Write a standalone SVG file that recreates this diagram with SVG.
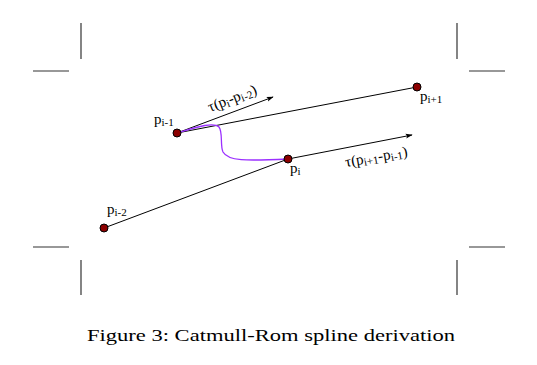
<svg xmlns="http://www.w3.org/2000/svg" width="537" height="365" viewBox="0 0 537 365">
<style>
.crop{stroke:#333;stroke-width:1.2;fill:none}
.ln{stroke:#000;stroke-width:1;fill:none}
.pt{fill:#8b0000;stroke:#000;stroke-width:1}
.lbl{font-family:"Liberation Serif",serif;font-size:15px;fill:#000}
.sub{font-size:11px}
.cap{font-family:"Liberation Serif",serif;font-size:17px;fill:#000}
</style>
<defs>
<marker id="ah" viewBox="0 0 10 10" refX="9" refY="5" markerWidth="7" markerHeight="7" orient="auto" markerUnits="userSpaceOnUse">
<path d="M0,1.5 L10,5 L0,8.5 L2,5 Z" fill="#000"/>
</marker>
</defs>
<g id="cropmarks">
<line class="crop" x1="81" y1="23" x2="81" y2="59"/>
<line class="crop" x1="33" y1="71" x2="69" y2="71"/>
<line class="crop" x1="457" y1="23" x2="457" y2="59"/>
<line class="crop" x1="469" y1="71" x2="505" y2="71"/>
<line class="crop" x1="33" y1="247" x2="69" y2="247"/>
<line class="crop" x1="81" y1="260" x2="81" y2="295"/>
<line class="crop" x1="457" y1="260" x2="457" y2="295"/>
<line class="crop" x1="469" y1="247" x2="505" y2="247"/>
</g>
<g id="connectors">
<line class="ln" x1="104" y1="228" x2="288" y2="159"/>
<line class="ln" x1="177" y1="133" x2="417" y2="87"/>
<line class="ln" x1="177" y1="133" x2="273" y2="97" marker-end="url(#ah)"/>
<line class="ln" x1="288" y1="159" x2="412" y2="135" marker-end="url(#ah)"/>
<path d="M177,133 C200,126 214,122 219,127 C223,132 220,146 223,152 C228,161 245,161 288,159" fill="none" stroke="#9b30ff" stroke-width="1.3"/>
</g>
<g id="p_im2">
<circle class="pt" cx="104" cy="228" r="4"/>
<text class="lbl" x="107" y="214">p<tspan class="sub" dy="2">i-2</tspan></text>
</g>
<g id="p_im1">
<circle class="pt" cx="177" cy="133" r="4"/>
<text class="lbl" x="154" y="124">p<tspan class="sub" dy="2">i-1</tspan></text>
</g>
<g id="p_i">
<circle class="pt" cx="288" cy="159" r="4"/>
<text class="lbl" x="290" y="173">p<tspan class="sub" dy="2">i</tspan></text>
</g>
<g id="p_ip1">
<circle class="pt" cx="417" cy="87" r="4"/>
<text class="lbl" x="420" y="101">p<tspan class="sub" dy="2">i+1</tspan></text>
</g>
<g id="tangent1">
<text class="lbl" transform="translate(210,112) rotate(-21)">τ(p<tspan class="sub" dy="2">i</tspan><tspan dy="-2">-p</tspan><tspan class="sub" dy="2">i-2</tspan><tspan dy="-2">)</tspan></text>
</g>
<g id="tangent2">
<text class="lbl" transform="translate(346,167) rotate(-10)">τ(p<tspan class="sub" dy="2">i+1</tspan><tspan dy="-2">-p</tspan><tspan class="sub" dy="2">i-1</tspan><tspan dy="-2">)</tspan></text>
</g>
<text class="cap" x="87" y="341" textLength="368" lengthAdjust="spacingAndGlyphs">Figure 3: Catmull-Rom spline derivation</text>
</svg>
